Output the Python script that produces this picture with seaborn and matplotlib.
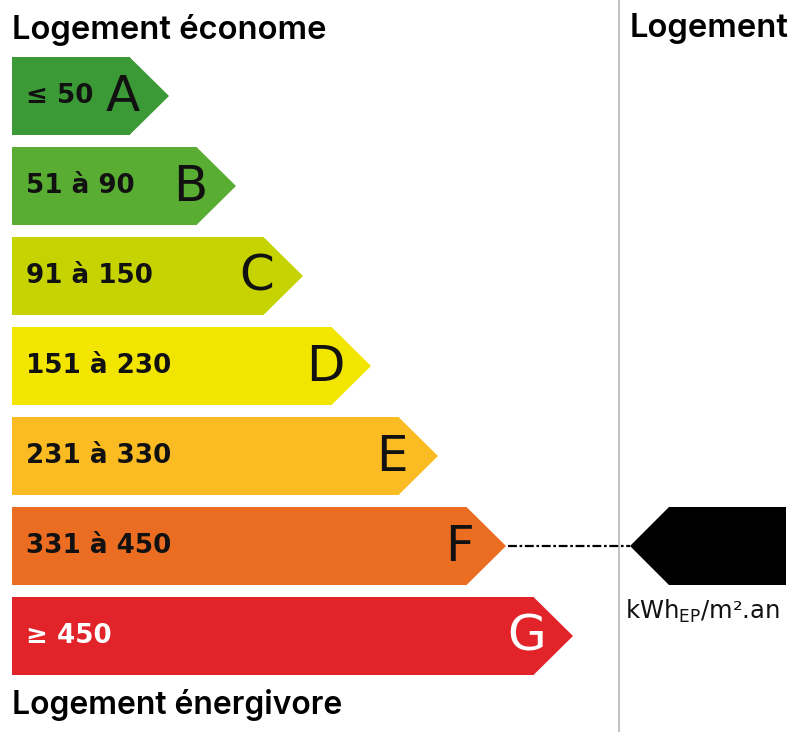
import matplotlib
matplotlib.use("Agg")
import matplotlib.pyplot as plt
import seaborn as sns
import pandas as pd
from matplotlib.patches import Polygon

sns.set_theme(style="white")
plt.rcParams['font.family'] = ['DejaVu Sans']

# ---- data ----
classes = ["A", "B", "C", "D", "E", "F", "G"]
ranges = ["≤ 50", "51 à 90", "91 à 150", "151 à 230", "231 à 330", "331 à 450", "≥ 450"]
colors = ["#3b9a36", "#5aad33", "#c7d301", "#f2e500", "#fbbb23", "#ea6d21", "#e2242a"]
text_colors = ["#111111"] * 6 + ["#ffffff"]
bar_len = [118, 185, 252, 320, 387, 455, 522]
current_class = "F"
unit_label = "kWh$_{\\mathregular{EP}}$/m².an"
title_top = "Logement économe"
title_bottom = "Logement énergivore"
title_right = "Logement"

W, H = 800, 732
fig = plt.figure(figsize=(W / 100, H / 100), dpi=100)
fig.patch.set_facecolor("white")
ax = fig.add_axes([0, 0, 1, 1])

df = pd.DataFrame({"classe": classes, "longueur": bar_len})
sns.barplot(data=df, x="longueur", y="classe", hue="classe", palette=colors,
            orient="h", width=78 / 90, legend=False, ax=ax, saturation=1,
            linewidth=0)

X0 = 12  # left margin in px
ax.set_xlim(-X0, W - X0)
top = -96 / 90
ax.set_ylim(top + H / 90, top)
ax.axis("off")

tip = 39
for i, p in enumerate(ax.patches[:len(classes)]):
    x1 = p.get_width()
    y0 = p.get_y()
    h = p.get_height()
    tri = Polygon([(x1 - 0.5, y0), (x1 + tip, y0 + h / 2), (x1 - 0.5, y0 + h)],
                  closed=True, facecolor=colors[i], edgecolor="none")
    ax.add_patch(tri)
    yc = y0 + h / 2
    ax.text(14, yc, ranges[i], ha="left", va="center", fontsize=18.8,
            fontweight="bold", color=text_colors[i], family="DejaVu Sans")
    ax.text(x1 - 7, yc + 0.01, classes[i], ha="center", va="center", fontsize=36,
            color=text_colors[i], family="DejaVu Sans")

# separator
ax.axvline(619 - X0, color="#c4c4c4", lw=1.5)

# indicator
ci = classes.index(current_class)
cp = ax.patches[ci]
yc = cp.get_y() + cp.get_height() / 2
h = cp.get_height()
tip_x = 630 - X0
ax.plot([cp.get_width() + tip + 2, tip_x], [yc, yc], color="black", lw=1.6,
        linestyle=(0, (4, 1.2, 1.2, 1.2)))
ind = Polygon([(tip_x, yc), (tip_x + tip, yc - h / 2), (786 - X0, yc - h / 2),
               (786 - X0, yc + h / 2), (tip_x + tip, yc + h / 2)], closed=True,
              facecolor="black", edgecolor="none")
ax.add_patch(ind)
ax.text(625 - X0, yc + 0.73, unit_label, ha="left", va="center", fontsize=17.5,
        color="#111111")

# titles
tfont = dict(family="Inter", fontweight="semibold", fontsize=23.6, color="black")
fig.text(12 / W, 1 - 30 / H, title_top, ha="left", va="center", **tfont)
fig.text(630 / W, 1 - 29 / H, title_right, ha="left", va="center", **tfont)
fig.text(12 / W, 1 - 705 / H, title_bottom, ha="left", va="center",
         **dict(tfont, fontsize=23))

fig.savefig("out.png", dpi=100, facecolor="white")
